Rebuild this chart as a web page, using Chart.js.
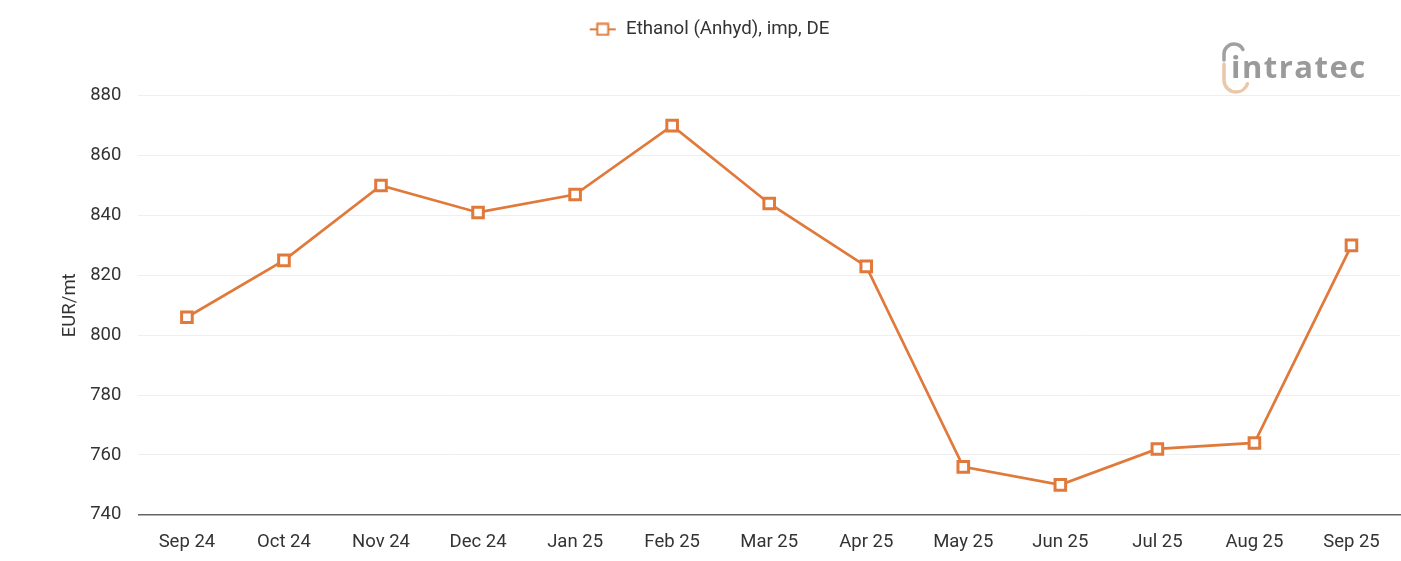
<!DOCTYPE html>
<html>
<head>
<meta charset="utf-8">
<script src="https://cdn.jsdelivr.net/npm/chart.js@4.4.1/dist/chart.umd.min.js"></script>
<style>
  html, body { margin: 0; padding: 0; background: #fff; }
  #wrap { width: 1401px; height: 561px; position: relative; }
</style>
</head>
<body>
<div id="wrap"><canvas id="ChartPrice"></canvas></div>
<script>
  // Data
  const months = ['Sep 24', 'Oct 24', 'Nov 24', 'Dec 24', 'Jan 25', 'Feb 25', 'Mar 25',
                  'Apr 25', 'May 25', 'Jun 25', 'Jul 25', 'Aug 25', 'Sep 25'];
  const ethanolPrices = [806, 825, 850, 841, 847, 870, 844, 823, 756, 750, 762, 764, 830];
  const seriesName = 'Ethanol (Anhyd), imp, DE';
  const yTicks = [740, 760, 780, 800, 820, 840, 860, 880];

  const line_orange = '#E0793A';
  const text_dark = '#333333';

  // legend marker: line with hollow square
  const legendMark = document.createElement('canvas');
  legendMark.width = 28;
  legendMark.height = 14;
  (function () {
    const c = legendMark.getContext('2d');
    c.strokeStyle = line_orange;
    c.lineWidth = 2;
    c.beginPath();
    c.moveTo(1, 7); c.lineTo(27, 7);
    c.stroke();
    c.fillStyle = '#fff';
    c.fillRect(8.5, 1.5, 11, 11);
    c.strokeRect(8.5, 1.5, 11, 11);
  })();

  // extra room under the legend
  const legendGap = {
    id: 'legendGap',
    beforeInit(chart) {
      const fit = chart.legend.fit;
      chart.legend.fit = function () {
        fit.bind(chart.legend)();
        this.height += 47;
      };
    }
  };

  // logo drawn as text
  const logoPlugin = {
    id: 'logo',
    afterDraw(chart) {
      const c = chart.ctx;
      c.save();
      c.font = '700 31px "Open Sans"';
      c.letterSpacing = '1.5px';
      c.fillStyle = '#9a9a9a';
      c.textBaseline = 'alphabetic';
      c.fillText('intratec', 1231, 78);
      c.lineWidth = 3.5;
      c.lineCap = 'round';
      c.strokeStyle = '#a0a0a0';
      c.beginPath();
      c.moveTo(1224, 60);
      c.arc(1234, 54, 10, Math.PI, Math.PI * 1.85);
      c.stroke();
      c.strokeStyle = '#e9c9a9';
      c.beginPath();
      c.moveTo(1224, 64);
      c.arc(1236, 80, 12, Math.PI, Math.PI * 0.1, true);
      c.stroke();
      c.restore();
    }
  };

  Chart.defaults.font.family = 'Roboto';
  Chart.defaults.font.size = 18.5;
  Chart.defaults.color = text_dark;

  const ctx = document.getElementById('ChartPrice').getContext('2d');
  new Chart(ctx, {
    type: 'line',
    data: {
      labels: months,
      datasets: [{
        label: seriesName,
        data: ethanolPrices,
        borderColor: line_orange,
        borderWidth: 2.7,
        backgroundColor: '#ffffff',
        pointStyle: 'rect',
        pointRadius: 7.5,
        pointBorderWidth: 3,
        pointBorderColor: line_orange,
        pointBackgroundColor: '#ffffff',
        tension: 0
      }]
    },
    options: {
      responsive: true,
      maintainAspectRatio: false,
      animation: false,
      layout: {
        autoPadding: false,
        padding: { top: 8, right: 1, left: 18, bottom: -8 }
      },
      scales: {
        x: {
          offset: true,
          grid: {
            display: false,
            drawTicks: false
          },
          border: {
            display: true,
            color: '#666666',
            width: 1.5
          },
          ticks: {
            padding: 16,
            maxRotation: 0,
            autoSkip: false
          }
        },
        y: {
          min: 740,
          max: 880,
          afterBuildTicks: function (axis) {
            axis.ticks = yTicks.map(v => ({ value: v }));
          },
          grid: {
            color: '#eeeeee',
            drawTicks: false
          },
          border: {
            display: false
          },
          ticks: {
            padding: 17
          },
          title: {
            display: true,
            text: 'EUR/mt',
            font: { size: 18.5 },
            padding: { top: 41, bottom: -8 }
          }
        }
      },
      plugins: {
        legend: {
          display: true,
          position: 'top',
          labels: {
            usePointStyle: true,
            pointStyle: legendMark,
            pointStyleWidth: 28,
            boxHeight: 14,
            padding: 12,
            color: text_dark,
            font: { size: 18.7 }
          }
        },
        tooltip: { enabled: false }
      }
    },
    plugins: [legendGap, logoPlugin]
  });
</script>
</body>
</html>
